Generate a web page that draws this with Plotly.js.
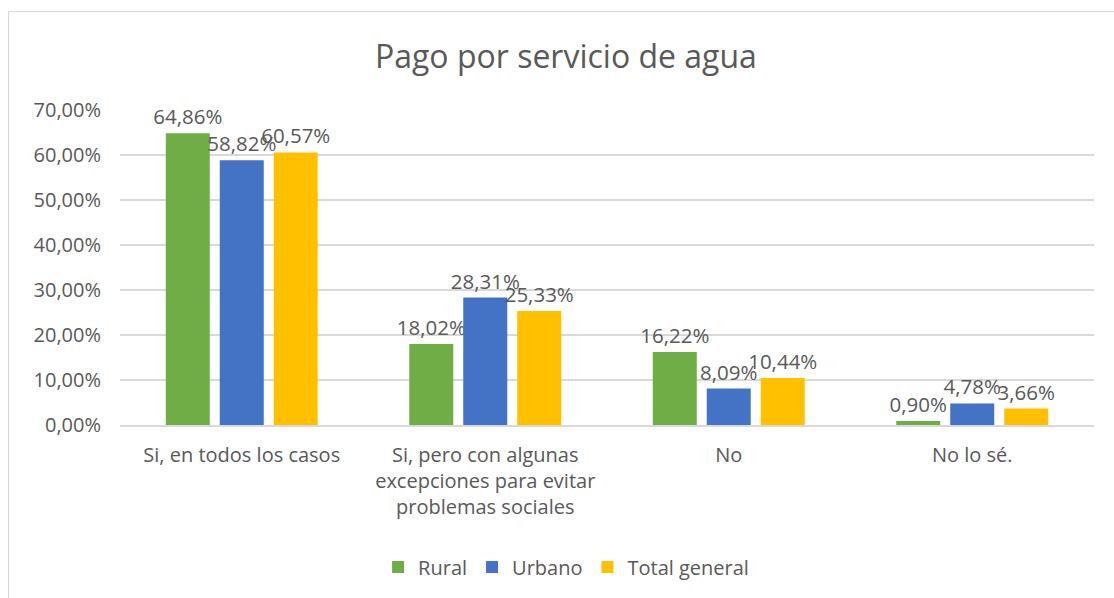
<!DOCTYPE html>
<html>
<head>
<meta charset="utf-8">
<script src="https://cdn.plot.ly/plotly-3.0.1.min.js"></script>
<style>
  html, body { margin: 0; padding: 0; background: #fff; }
  #wrap { position: relative; width: 1114px; height: 598px; overflow: hidden; }
  #frame { position: absolute; left: 8px; top: 11px; width: 1200px; height: 700px;
           border: 1px solid #d9d9d9; box-sizing: border-box; pointer-events: none; }
  #chart { position: absolute; left: 0; top: 0; width: 1114px; height: 598px; }
</style>
</head>
<body>
<div id="wrap">
  <div id="chart"></div>
  <div id="frame"></div>
</div>
<script>
const categories = [
  "Si, en todos los casos",
  "Si, pero con algunas<br>excepciones para evitar<br>problemas sociales",
  "No",
  "No lo sé."
];
const rural = [64.86, 18.02, 16.22, 0.90];
const urbano = [58.82, 28.31, 8.09, 4.78];
const totalGeneral = [60.57, 25.33, 10.44, 3.66];
const yTicks = [0, 10, 20, 30, 40, 50, 60, 70];
const yTickText = yTicks.map(v => v.toFixed(2).replace(".", ",") + "%");

const font = "'Open Sans', 'Noto Sans', sans-serif";
const grey = "#595959";

function series(name, vals, color) {
  return {
    type: "bar", name: name, x: categories, y: vals,
    marker: { color: color },
    texttemplate: "%{y:.2f}%", textposition: "outside",
    constraintext: "none", cliponaxis: false,
    textfont: { family: font, size: 20.5, color: grey },
    hoverinfo: "skip"
  };
}

const data = [
  series("Rural", rural, "#70AD47"),
  series("Urbano", urbano, "#4472C4"),
  series("Total general", totalGeneral, "#FFC000")
];

const layout = {
  width: 1114, height: 598,
  margin: { l: 120, r: 20, t: 110, b: 171 },
  paper_bgcolor: "rgba(0,0,0,0)", plot_bgcolor: "rgba(0,0,0,0)",
  separators: ",.",
  title: { text: "Pago por servicio de agua", x: 0.508, xanchor: "center", y: 0.905, yanchor: "middle",
           font: { family: font, size: 32, color: grey } },
  barmode: "group", bargap: 0.335, bargroupgap: 0.185,
  xaxis: { type: "category", tickfont: { family: font, size: 20, color: grey },
           showline: true, linecolor: "#d9d9d9", linewidth: 2, ticks: "", ticklen: 0,
           ticklabelstandoff: 11 },
  yaxis: { range: [0, 70], tickvals: yTicks, ticktext: yTickText,
           tickfont: { family: font, size: 20, color: grey },
           gridcolor: "#d9d9d9", gridwidth: 1.5, zeroline: false, showline: false, ticklen: 0,
           ticklabelstandoff: 18 },
  showlegend: true,
  legend: { orientation: "h", x: 0.458, xanchor: "center", y: -0.451, yanchor: "middle",
            font: { family: font, size: 20, color: grey }, itemwidth: 30, traceorder: "normal" },
  font: { family: font, color: grey }
};

Plotly.newPlot("chart", data, layout, { displayModeBar: false, staticPlot: true });
</script>
</body>
</html>
